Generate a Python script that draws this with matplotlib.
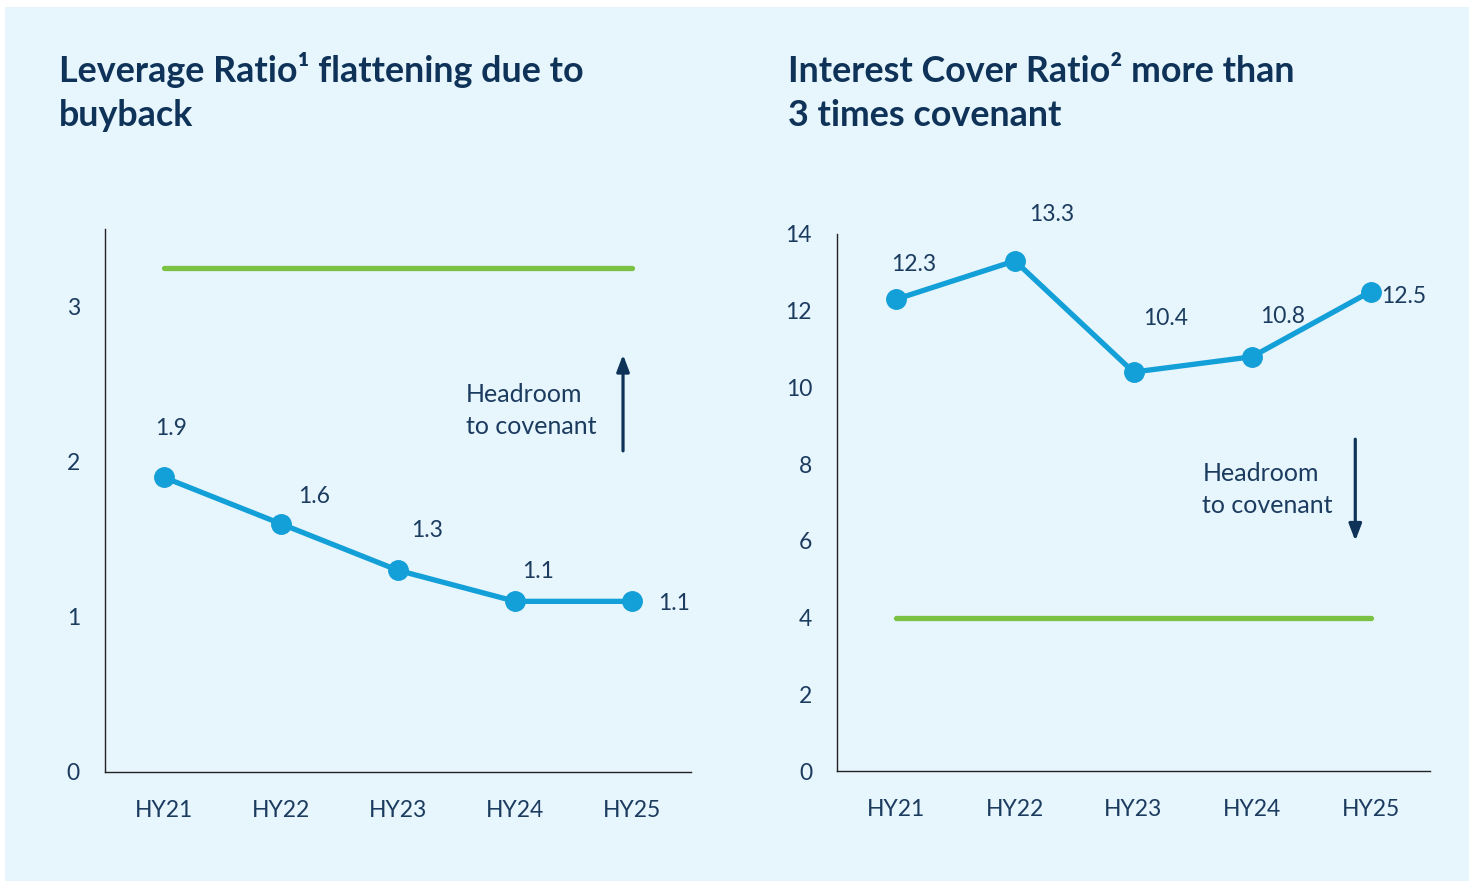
import matplotlib
matplotlib.use("Agg")
import matplotlib.pyplot as plt
from matplotlib.patches import Rectangle

plt.rcParams['font.family'] = ['Lato', 'DejaVu Sans']

periods = ["HY21", "HY22", "HY23", "HY24", "HY25"]
leverage = [1.9, 1.6, 1.3, 1.1, 1.1]
leverage_covenant = 3.25
interest_cover = [12.3, 13.3, 10.4, 10.8, 12.5]
interest_covenant = 4.0

NAVY = "#0f3358"
TEXT = "#1b3b5f"
BLUE = "#139fd7"
GREEN = "#7bc143"
PANEL = "#e7f5fc"

W, H = 1473, 885
fig = plt.figure(figsize=(W / 100, H / 100), dpi=100, facecolor="white")
fig.patches.append(Rectangle((5 / W, 1 - 881 / H), 1464 / W, 874 / H,
                             transform=fig.transFigure, facecolor=PANEL,
                             edgecolor="none", zorder=-10))


def style_axes(ax, ylim, yticks):
    ax.set_facecolor("none")
    ax.set_xlim(-0.5, 4.5)
    ax.set_ylim(*ylim)
    ax.set_xticks(range(len(periods)))
    ax.set_xticklabels(periods)
    ax.set_yticks(yticks)
    for s in ("top", "right"):
        ax.spines[s].set_visible(False)
    for s in ("left", "bottom"):
        ax.spines[s].set_color("#222222")
        ax.spines[s].set_linewidth(1.0)
    ax.tick_params(axis="both", length=0, labelsize=16.5, labelcolor=TEXT)
    ax.tick_params(axis="x", pad=20)
    ax.tick_params(axis="y", pad=18)


def draw_series(ax, values, covenant, offsets):
    x = list(range(len(values)))
    ax.plot([x[0], x[-1]], [covenant, covenant], color=GREEN, lw=3.8,
            solid_capstyle="round", zorder=2)
    ax.plot(x, values, color=BLUE, lw=3.8, marker="o", markersize=14,
            solid_capstyle="round", zorder=3)
    for xi, v, (dx, dy) in zip(x, values, offsets):
        ax.annotate(f"{v:.1f}", (xi, v), xytext=(dx, dy),
                    textcoords="offset pixels", ha="center", va="center",
                    fontsize=16.5, color=TEXT)


ARROW = dict(arrowstyle="-|>,head_length=1.0,head_width=0.38",
             color=NAVY, lw=2.3, shrinkA=0, shrinkB=0)

# Leverage ratio
ax1 = fig.add_axes([105 / W, 1 - 772 / H, 586 / W, 543 / H])
style_axes(ax1, (0, 3.5), [0, 1, 2, 3])
draw_series(ax1, leverage, leverage_covenant,
            [(7, 49), (33, 27), (29, 40), (23, 30), (42, -2)])
ax1.annotate("", xy=(3.92, 2.69), xytext=(3.92, 2.07), arrowprops=ARROW)
ax1.text(2.58, 2.33, "Headroom\nto covenant", ha="left", va="center",
         fontsize=18, color=TEXT, linespacing=1.45)
fig.text(59 / W, 1 - 52 / H, "Leverage Ratio¹ flattening due to\nbuyback",
         ha="left", va="top", fontsize=25.8, fontweight="bold", color=NAVY,
         linespacing=1.4)

# Interest cover ratio
ax2 = fig.add_axes([837 / W, 1 - 771 / H, 593 / W, 537 / H])
style_axes(ax2, (0, 14), [0, 2, 4, 6, 8, 10, 12, 14])
draw_series(ax2, interest_cover, interest_covenant,
            [(17, 35), (37, 46), (32, 54), (31, 40), (33, -5)])
ax2.annotate("", xy=(3.87, 6.0), xytext=(3.87, 8.65), arrowprops=ARROW)
ax2.text(2.58, 7.34, "Headroom\nto covenant", ha="left", va="center",
         fontsize=18, color=TEXT, linespacing=1.45)
fig.text(788 / W, 1 - 55 / H, "Interest Cover Ratio² more than\n3 times covenant",
         ha="left", va="top", fontsize=25.8, fontweight="bold", color=NAVY,
         linespacing=1.4)

fig.savefig("out.png", dpi=100, facecolor="white")
